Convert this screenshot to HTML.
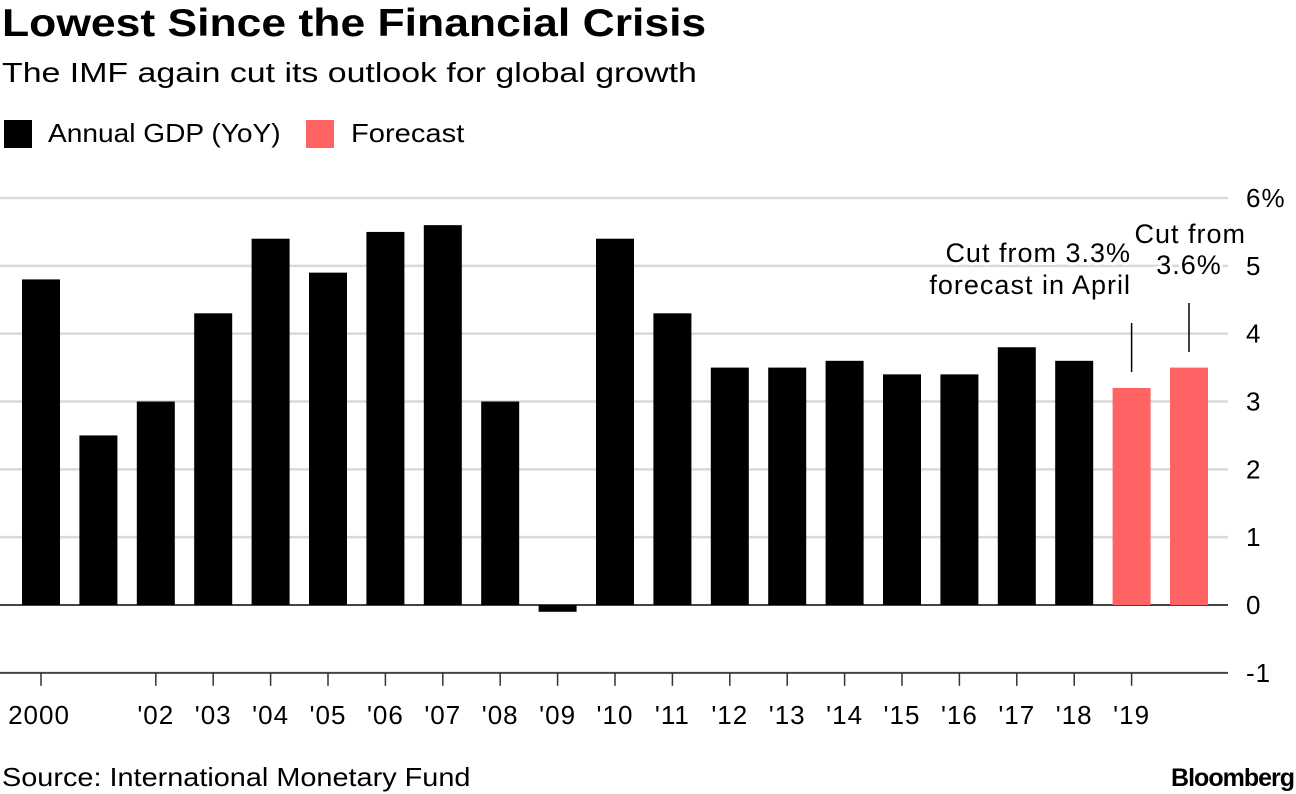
<!DOCTYPE html>
<html><head><meta charset="utf-8"><style>
body{margin:0;width:1296px;height:794px;background:#fff;font-family:"Liberation Sans",Arial,sans-serif;overflow:hidden;position:relative}
.t{position:absolute;white-space:nowrap;color:#000;transform-origin:0 0}
</style></head><body>
<div class="t" style="left:2px;top:2px;font-size:39px;font-weight:bold;transform:scaleX(1.14)">Lowest Since the Financial Crisis</div>
<div class="t" style="left:2px;top:57px;font-size:28px;transform:scaleX(1.21)">The IMF again cut its outlook for global growth</div>
<div style="position:absolute;left:4px;top:120px;width:28px;height:28px;background:#000"></div>
<div class="t" style="left:48px;top:118px;font-size:26px;transform:scaleX(1.08)">Annual GDP (YoY)</div>
<div style="position:absolute;left:306px;top:120px;width:28px;height:28px;background:#ff6363"></div>
<div class="t" style="left:351px;top:118px;font-size:26px;transform:scaleX(1.12)">Forecast</div>
<svg id="chart" width="1296" height="794" style="position:absolute;left:0;top:0"></svg>
<div class="t" style="left:2px;top:762px;font-size:26px;transform:scaleX(1.11)">Source: International Monetary Fund</div>
<div class="t" style="right:2px;top:764px;font-size:25px;font-weight:bold;letter-spacing:-1px">Bloomberg</div>
<script>
const years=[2000,2001,2002,2003,2004,2005,2006,2007,2008,2009,2010,2011,2012,2013,2014,2015,2016,2017,2018,2019,2020];
const values=[4.8,2.5,3.0,4.3,5.4,4.9,5.5,5.6,3.0,-0.1,5.4,4.3,3.5,3.5,3.6,3.4,3.4,3.8,3.6,3.2,3.5];
const isForecast=[0,0,0,0,0,0,0,0,0,0,0,0,0,0,0,0,0,0,0,1,1];
const xLabels=["2000","","'02","'03","'04","'05","'06","'07","'08","'09","'10","'11","'12","'13","'14","'15","'16","'17","'18","'19",""];
const yTicks=[-1,0,1,2,3,4,5,6];
const yTickLabels=["-1","0","1","2","3","4","5","6%"];
const NS="http://www.w3.org/2000/svg";
const svg=document.getElementById('chart');
const y=v=>605-v*67.83;
const x=i=>41+i*57.4;
const bw=38;
function el(t,a){const e=document.createElementNS(NS,t);for(const k in a)e.setAttribute(k,a[k]);svg.appendChild(e);return e;}
yTicks.forEach((v,i)=>{
  const l=el('line',{x1:0,x2:1228,y1:y(v),y2:y(v),stroke:(v===0||v===-1)?'#444':'#d9d9d9','stroke-width':(v===0||v===-1)?2:2.5});
  
  
  const t=el('text',{x:1246,y:y(v)+9,'font-size':26,'letter-spacing':1,'font-family':'Liberation Sans, sans-serif'});
  t.textContent=yTickLabels[i];
  
  
});
values.forEach((v,i)=>{
  const top=Math.min(y(v),y(0)),h=Math.abs(y(v)-y(0));
  const r=el('rect',{x:x(i)-bw/2,y:top,width:bw,height:Math.max(h,1),fill:isForecast[i]?'#ff6363':'#000'});
  
  
  if(xLabels[i]!==""){
    const tk=el('line',{x1:x(i),x2:x(i),y1:y(-1),y2:y(-1)+13,stroke:'#333','stroke-width':1.5});
    
    
    const t=el('text',{x:x(i)+(i===0?-2:0),y:724,'text-anchor':'middle','font-size':26,'letter-spacing':1,'font-family':'Liberation Sans, sans-serif'});
    t.textContent=xLabels[i];
    
    
  }
});
const a1=el('line',{x1:x(19),x2:x(19),y1:323,y2:372,stroke:'#000','stroke-width':1.5});


const a2=el('line',{x1:x(20),x2:x(20),y1:303,y2:352,stroke:'#000','stroke-width':1.5});


[["Cut from 3.3%",1131,262,'end'],["forecast in April",1131,294,'end'],["Cut from",1246,243,'end'],["3.6%",1189,274,'middle']].forEach(a=>{
  const t=el('text',{x:a[1],y:a[2],'text-anchor':a[3],'font-size':27,'letter-spacing':1,'font-family':'Liberation Sans, sans-serif',stroke:'#fff','stroke-width':6,'paint-order':'stroke'});
  t.textContent=a[0];
  
  
});
</script>
</body></html>
